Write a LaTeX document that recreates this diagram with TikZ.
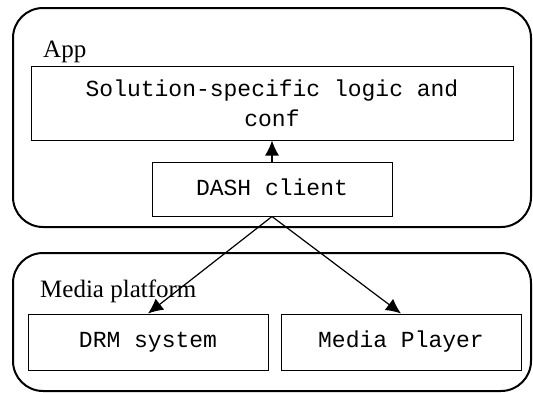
\documentclass[tikz,border=0pt]{standalone}
\usepackage{fontspec}
\setmainfont{Liberation Serif}
\newfontfamily\cour{Liberation Mono}
\usetikzlibrary{arrows.meta}
\begin{document}
\begin{tikzpicture}[x=1pt,y=-1pt,
  group/.style={draw,line width=2pt,rounded corners=30pt},
  box/.style={draw,line width=1pt,inner sep=0pt,font=\cour\fontsize{23}{30}\selectfont,align=center},
  lbl/.style={inner sep=0pt,anchor=base west,font=\fontsize{25}{30}\selectfont},
  conn/.style={line width=1.2pt,-{Latex[length=15pt,width=14pt]}}]
\useasboundingbox (0,0) rectangle (533,392);
\draw[group] (13,8) rectangle (531,227);
\draw[group] (13,253) rectangle (531,391);
\node[lbl] (applbl) at (43,57) {App};
\node[lbl] (medlbl) at (40,297) {Media platform};
\node[box,minimum width=482pt,minimum height=74pt] (sol) at (272,103) {Solution-specific logic and\\conf};
\node[box,minimum width=240pt,minimum height=54pt] (dash) at (272,189) {\raisebox{3pt}{DASH client}};
\node[box,minimum width=240pt,minimum height=56pt] (drm) at (148,342) {\raisebox{3pt}{DRM system}};
\node[box,minimum width=240pt,minimum height=56pt] (mp) at (401,342) {\raisebox{3pt}{Media Player}};
\draw[conn] (dash.north) -- (sol.south);
\draw[conn] (dash.south) -- (drm.north);
\draw[conn] (dash.south) -- (mp.north);
\end{tikzpicture}
\end{document}
